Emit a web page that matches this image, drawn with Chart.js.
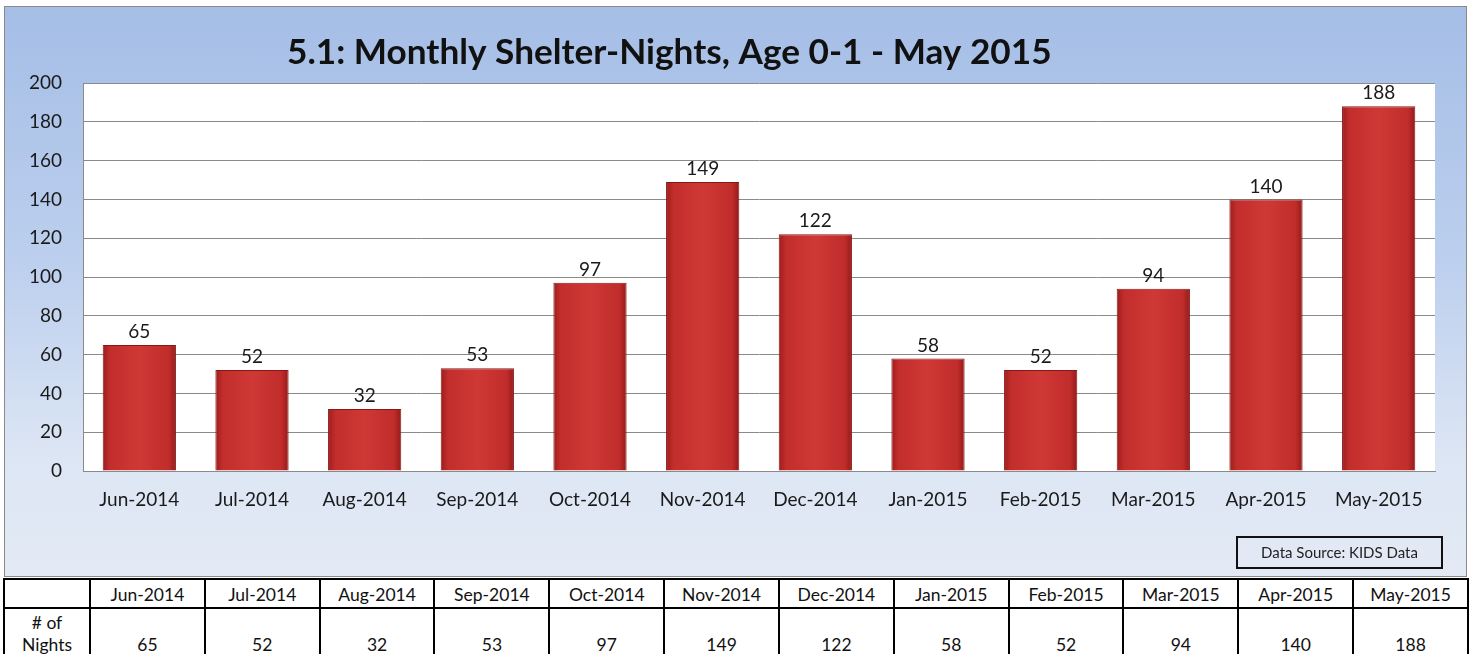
<!DOCTYPE html>
<html lang="en">
<head>
<meta charset="UTF-8">
<title>Monthly Shelter-Nights, Age 0-1</title>
<script src="https://cdn.jsdelivr.net/npm/chart.js"></script>
<style>
  body { margin: 0; width: 1473px; height: 654px; overflow: hidden; background: #fff; font-family: Lato, sans-serif; }
  #panel { position: absolute; left: 4px; top: 6px; width: 1461px; height: 569px; border: 1px solid #8a8a8a;
           background: linear-gradient(#a5bee6 0%, #bccfee 45%, #dde6f4 80%, #e3eaf5 100%); }
  #chart { position: absolute; left: 0; top: 0; }
  #source { position: absolute; left: 1236px; top: 536px; width: 203px; height: 29px; border: 2px solid #111;
            font-size: 15px; line-height: 29px; text-align: center; color: #222; }
  table { position: absolute; left: 3px; top: 578px; border-collapse: collapse; table-layout: fixed; width: 1466px; }
  td { border: 2px solid #000; text-align: center; font-size: 17.5px; color: #111; padding: 0; }
  tr.head td { height: 24px; line-height: 24px; padding-top: 3px; }
  tr.vals td { vertical-align: bottom; line-height: 22px; padding: 3px 0 6px 0; }
</style>
</head>
<body>
<div id="panel"></div>
<canvas id="chart" width="1473" height="578"></canvas>
<div id="source">Data Source: KIDS Data</div>
<table id="tbl"></table>
<script>
    const titleText = '5.1: Monthly Shelter-Nights, Age 0-1 - May 2015';
    const months = ['Jun-2014', 'Jul-2014', 'Aug-2014', 'Sep-2014', 'Oct-2014', 'Nov-2014',
                    'Dec-2014', 'Jan-2015', 'Feb-2015', 'Mar-2015', 'Apr-2015', 'May-2015'];
    const nights = [65, 52, 32, 53, 97, 149, 122, 58, 52, 94, 140, 188];
    const rowLabel = '# of<br>Nights';

    // table under the chart
    const tbl = document.getElementById('tbl');
    let html = '<colgroup><col style="width:86px">' + months.map(() => '<col>').join('') + '</colgroup>';
    html += '<tr class="head"><td></td>' + months.map(m => '<td>' + m + '</td>').join('') + '</tr>';
    html += '<tr class="vals"><td>' + rowLabel + '</td>' + nights.map(v => '<td>' + v + '</td>').join('') + '</tr>';
    tbl.innerHTML = html;

    const plotBg = {
        id: 'plotBg',
        beforeDraw(chart) {
            const a = chart.chartArea;
            const ctx = chart.ctx;
            ctx.save();
            ctx.fillStyle = '#ffffff';
            ctx.fillRect(a.left, a.top, a.right - a.left, a.bottom - a.top);
            ctx.restore();
        }
    };

    const titlePlugin = {
        id: 'titleText',
        afterDraw(chart) {
            const ctx = chart.ctx;
            ctx.save();
            ctx.font = 'bold 30px Lato';
            const size = 30 * 765 / ctx.measureText(titleText).width;
            ctx.font = 'bold ' + size + 'px Lato';
            ctx.fillStyle = '#111';
            ctx.textBaseline = 'alphabetic';
            ctx.fillText(titleText, 287, 64);
            ctx.restore();
        }
    };

    const valueLabels = {
        id: 'valueLabels',
        afterDatasetsDraw(chart) {
            const ctx = chart.ctx;
            const meta = chart.getDatasetMeta(0);
            ctx.save();
            ctx.font = '19px Lato';
            ctx.fillStyle = '#1a1a1a';
            ctx.textAlign = 'center';
            ctx.textBaseline = 'middle';
            meta.data.forEach((bar, i) => {
                ctx.fillText(nights[i], bar.x, bar.y - 13);
            });
            ctx.restore();
        }
    };

    function barFill(c) {
        const chart = c.chart;
        const xs = chart.scales.x;
        if (!xs || c.dataIndex === undefined) return '#c8302e';
        const cx = xs.getPixelForValue(c.dataIndex);
        const half = xs.width / months.length * 0.65 / 2;
        if (!isFinite(cx) || !isFinite(half) || half <= 0) return '#c8302e';
        const g = chart.ctx.createLinearGradient(cx - half, 0, cx + half, 0);
        g.addColorStop(0, '#9e1c1c');
        g.addColorStop(0.1, '#c22e2c');
        g.addColorStop(0.5, '#cf3835');
        g.addColorStop(0.9, '#c02d2b');
        g.addColorStop(1, '#951a1a');
        return g;
    }

    const ctx = document.getElementById('chart').getContext('2d');
    const shelterChart = new Chart(ctx, {
        type: 'bar',
        data: {
            labels: months,
            datasets: [{
                label: '# of Nights',
                data: nights,
                backgroundColor: barFill,
                borderColor: '#861818',
                borderWidth: 1,
                categoryPercentage: 1,
                barPercentage: 0.65
            }]
        },
        plugins: [plotBg, titlePlugin, valueLabels],
        options: {
            responsive: false,
            animation: false,
            layout: { padding: { top: 83, right: 38, left: 0, bottom: 0 } },
            plugins: {
                legend: { display: false },
                title: { display: false },
                tooltip: { enabled: false }
            },
            scales: {
                x: {
                    grid: { display: false },
                    border: { display: true, color: '#8a8a8a', width: 1 },
                    ticks: { color: '#1a1a1a', font: { family: 'Lato', size: 19 }, padding: 9, maxRotation: 0 },
                    afterFit(s) { s.height = 107; }
                },
                y: {
                    min: 0,
                    max: 200,
                    ticks: { stepSize: 20, color: '#1a1a1a', font: { family: 'Lato', size: 19 }, padding: 21 },
                    grid: { color: '#8a8a8a', drawTicks: false },
                    border: { display: true, color: '#8a8a8a', width: 1 },
                    afterFit(s) { s.width = 83; }
                }
            }
        }
    });
    // colours depend on the final layout
    shelterChart.update();
</script>
</body>
</html>
